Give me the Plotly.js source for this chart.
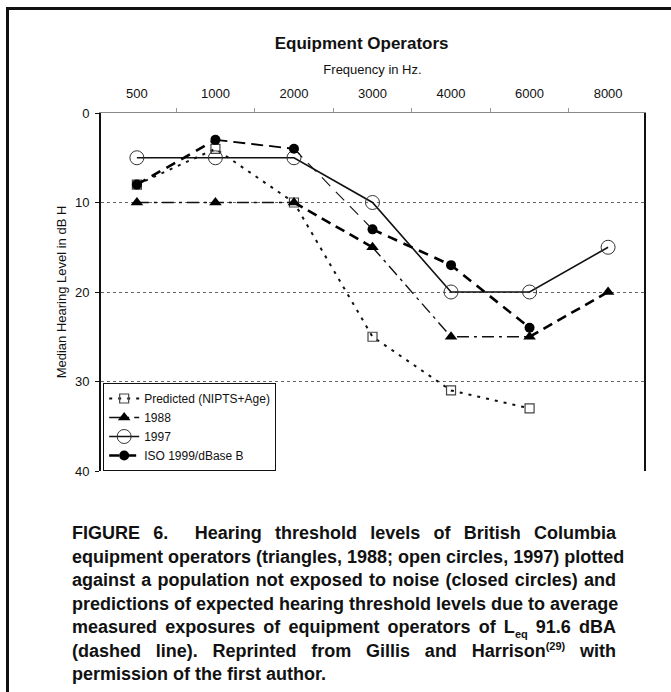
<!DOCTYPE html>
<html>
<head>
<meta charset="utf-8">
<script src="https://cdn.plot.ly/plotly-3.0.1.min.js"></script>
<style>
  html, body { margin: 0; padding: 0; background: #fff; }
  #wrap { position: relative; width: 671px; height: 692px; overflow: hidden; }
  #chart { position: absolute; left: 0; top: 0; width: 671px; height: 692px; }
  #frame { position: absolute; left: 6px; top: 7px; width: 680px; height: 700px;
           border-left: 3px solid #111; border-top: 3px solid #111; pointer-events: none; }
  #caption { position: absolute; left: 72px; top: 522px; width: 544px;
             font-family: "Liberation Sans", Arial, sans-serif;
             font-weight: bold; font-size: 18px; line-height: 23.5px; color: #111; }
  #caption .ln { text-align: justify; text-align-last: justify; white-space: nowrap; }
  #caption .ln.last { text-align-last: left; }
  #caption sub, #caption sup { font-size: 11px; line-height: 0; }
</style>
</head>
<body>
<div id="wrap">
  <div id="chart"></div>
  <div id="frame"></div>
  <div id="caption">
    <div class="ln">FIGURE 6.&nbsp; Hearing threshold levels of British Columbia</div>
    <div class="ln">equipment operators (triangles, 1988; open circles, 1997) plotted</div>
    <div class="ln">against a population not exposed to noise (closed circles) and</div>
    <div class="ln">predictions of expected hearing threshold levels due to average</div>
    <div class="ln">measured exposures of equipment operators of L<sub>eq</sub> 91.6 dBA</div>
    <div class="ln">(dashed line). Reprinted from Gillis and Harrison<sup>(29)</sup> with</div>
    <div class="ln last">permission of the first author.</div>
  </div>
</div>
<script>
// ---- data ----
const frequencies = ["500", "1000", "2000", "3000", "4000", "6000", "8000"];
const predictedNIPTS = [8, 4, 10, 25, 31, 33, null];
const hl1988 = [10, 10, 10, 15, 25, 25, 20];
const hl1997 = [5, 5, 5, 10, 20, 20, 15];
const iso1999 = [8, 3, 4, 13, 17, 24, null];
const yTicks = [0, 10, 20, 30, 40];

// ---- per-segment line styles of the scanned figure (style only, no data) ----
const seg1988 = ["base", "base", "thick", "base", "base", "thick"];
const segIso = ["base", "mid", "thin", "base", "base", "base"];

// main series: every point (markers), line only on "base" segments
function mainPath(xs, ys, segs) {
  const x = [], y = [];
  for (let i = 0; i < xs.length; i++) {
    x.push(xs[i]); y.push(ys[i]);
    if (i < xs.length - 1 && segs && segs[i] !== "base") { x.push(xs[i]); y.push(null); }
  }
  return { x, y };
}
// extra segments with a given style
function segPath(xs, ys, segs, key) {
  const x = [], y = [];
  for (let i = 0; i < xs.length - 1; i++) {
    if (segs[i] === key) {
      x.push(xs[i], xs[i + 1], xs[i + 1]);
      y.push(ys[i], ys[i + 1], null);
    }
  }
  return { x, y };
}

const p88 = mainPath(frequencies, hl1988, seg1988);
const pIso = mainPath(frequencies, iso1999, segIso);
const t88 = segPath(frequencies, hl1988, seg1988, "thick");
const isoMid = segPath(frequencies, iso1999, segIso, "mid");
const isoThin = segPath(frequencies, iso1999, segIso, "thin");

const traces = [
  {
    x: frequencies, y: predictedNIPTS, name: "Predicted (NIPTS+Age)",
    mode: "lines+markers", connectgaps: false,
    line: { color: "#111", width: 2, dash: "3px,6px" },
    marker: { symbol: "square-open", size: 9, color: "#444", line: { width: 1.2, color: "#444" } }
  },
  {
    x: p88.x, y: p88.y, name: "1988",
    mode: "lines+markers", connectgaps: false,
    line: { color: "#111", width: 1.4, dash: "12px,5px,3px,5px" },
    marker: { symbol: "triangle-up", size: 11, color: "#000" }
  },
  {
    x: frequencies, y: hl1997, name: "1997",
    mode: "lines+markers",
    line: { color: "#111", width: 1.6 },
    marker: { symbol: "circle-open", size: 14, color: "#333", line: { width: 1, color: "#333" } }
  },
  {
    x: pIso.x, y: pIso.y, name: "ISO 1999/dBase B",
    mode: "lines+markers", connectgaps: false,
    line: { color: "#000", width: 2.6, dash: "10px,7px" },
    marker: { symbol: "circle", size: 10, color: "#000" }
  },
  {
    x: t88.x, y: t88.y, mode: "lines", showlegend: false, connectgaps: false,
    line: { color: "#000", width: 2.6, dash: "10px,6px" }
  },
  {
    x: isoMid.x, y: isoMid.y, mode: "lines", showlegend: false, connectgaps: false,
    line: { color: "#000", width: 1.8, dash: "12px,6px" }
  },
  {
    x: isoThin.x, y: isoThin.y, mode: "lines", showlegend: false, connectgaps: false,
    line: { color: "#111", width: 1.1, dash: "12px,8px" }
  }
];

const layout = {
  width: 671, height: 692,
  margin: { l: 101, r: 27, t: 113, b: 221 },
  paper_bgcolor: "#fff", plot_bgcolor: "#fff",
  font: { family: "Liberation Sans, Arial, sans-serif", color: "#111", size: 13 },
  title: {
    text: "<b>Equipment Operators</b>",
    font: { size: 17, color: "#111", family: "Liberation Sans, Arial, sans-serif" },
    x: 0.539, xref: "container", xanchor: "center",
    y: 1 - 43 / 692, yref: "container", yanchor: "middle"
  },
  showlegend: true,
  legend: {
    x: 0.004, xanchor: "left", y: 0.0, yanchor: "bottom",
    bordercolor: "#111", borderwidth: 1, bgcolor: "#fff",
    font: { size: 12, color: "#111" },
    tracegroupgap: 0
  },
  xaxis: {
    type: "category", side: "top",
    categoryorder: "array", categoryarray: frequencies,
    tickson: "boundaries", ticks: "outside", ticklen: 4, tickcolor: "#999",
    showline: true, linecolor: "#888", linewidth: 1.5, mirror: false,
    showgrid: false, zeroline: false,
    tickfont: { size: 13 }, ticklabelstandoff: 8,
    title: { text: "Frequency in Hz.", font: { size: 13 }, standoff: 8 }
  },
  yaxis: {
    range: [40, 0], tickvals: yTicks, ticktext: yTicks.map(String),
    ticks: "outside", ticklen: 4, tickcolor: "#111",
    showline: true, linecolor: "#111", linewidth: 2, mirror: true,
    showgrid: true, gridcolor: "#666", griddash: "dot", gridwidth: 1,
    zeroline: false, tickfont: { size: 13 }, ticklabelstandoff: 3,
    title: { text: "Median Hearing Level in dB H", font: { size: 13 }, standoff: 5 }
  }
};

Plotly.newPlot("chart", traces, layout, { displayModeBar: false, staticPlot: true });
</script>
</body>
</html>
